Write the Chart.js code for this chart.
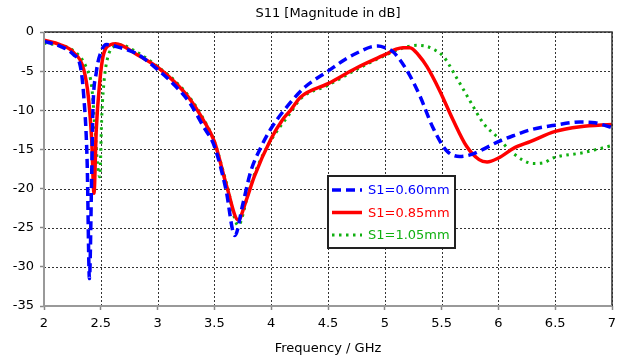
<!DOCTYPE html>
<html>
<head>
<meta charset="utf-8">
<script src="https://cdn.jsdelivr.net/npm/chart.js@4/dist/chart.umd.min.js"></script>
<style>
  html, body { margin: 0; padding: 0; background: #fff; }
  #wrap { width: 623px; height: 356px; }
</style>
</head>
<body>
<div id="wrap"><canvas id="c"></canvas></div>
<script>
// S1 = 0.60 mm
const freq060 = [2.00, 2.14, 2.26, 2.32, 2.35, 2.38, 2.40, 2.42, 2.43, 2.46, 2.50, 2.55, 2.67, 2.82, 3.00, 3.15, 3.28, 3.40, 3.50, 3.60, 3.68, 3.75, 3.82, 3.90, 4.00, 4.17, 4.30, 4.50, 4.65, 4.78, 4.88, 4.94, 5.00, 5.07, 5.19, 5.31, 5.42, 5.54, 5.66, 5.75, 5.85, 6.00, 6.14, 6.28, 6.50, 6.72, 6.85, 6.93, 7.00];
const db060   = [-1.2, -1.8, -2.9, -4.4, -8.2, -16.7, -31.5, -18.0, -10.3, -5.2, -2.6, -1.6, -2.0, -2.8, -4.8, -6.8, -9.0, -12.0, -14.6, -20.0, -26.0, -22.0, -17.8, -15.0, -12.3, -9.0, -7.0, -5.0, -3.5, -2.5, -1.9, -1.8, -2.0, -2.5, -4.8, -8.2, -12.1, -15.1, -15.9, -15.7, -15.1, -14.0, -13.2, -12.5, -11.9, -11.5, -11.6, -11.9, -12.2];

// S1 = 0.85 mm
const freq085 = [2.00, 2.14, 2.26, 2.35, 2.39, 2.42, 2.44, 2.46, 2.49, 2.52, 2.59, 2.63, 2.82, 3.00, 3.15, 3.28, 3.40, 3.50, 3.61, 3.71, 3.78, 3.85, 4.00, 4.10, 4.17, 4.26, 4.50, 4.75, 5.00, 5.10, 5.16, 5.22, 5.30, 5.37, 5.48, 5.60, 5.72, 5.83, 5.90, 6.00, 6.14, 6.28, 6.50, 6.72, 7.00];
const db085   = [-1.05, -1.6, -2.6, -4.8, -8.2, -13.8, -20.6, -12.5, -6.5, -3.1, -1.6, -1.5, -2.9, -4.5, -6.4, -8.5, -11.2, -14.0, -19.8, -24.0, -21.5, -18.5, -13.6, -11.2, -10.0, -8.3, -6.6, -4.6, -2.9, -2.2, -2.0, -2.0, -3.0, -4.4, -7.4, -11.2, -14.6, -16.3, -16.6, -16.1, -14.8, -14.0, -12.7, -12.1, -11.8];

// S1 = 1.05 mm
const freq105 = [2.00, 2.26, 2.38, 2.42, 2.45, 2.47, 2.49, 2.51, 2.53, 2.56, 2.62, 2.66, 2.82, 3.00, 3.15, 3.28, 3.40, 3.50, 3.61, 3.71, 3.80, 3.87, 4.00, 4.17, 4.26, 4.50, 4.75, 5.00, 5.15, 5.28, 5.36, 5.43, 5.52, 5.63, 5.75, 5.87, 5.99, 6.13, 6.31, 6.40, 6.48, 6.75, 7.00];
const db105   = [-1.4, -2.4, -4.8, -7.0, -12.5, -16.7, -18.5, -10.3, -6.1, -3.3, -1.8, -1.6, -2.6, -4.4, -6.2, -8.3, -11.0, -14.0, -19.5, -24.7, -20.5, -17.5, -13.8, -10.3, -8.5, -6.8, -4.8, -3.0, -2.1, -1.7, -1.8, -2.2, -3.2, -5.8, -8.8, -11.7, -13.4, -15.5, -16.8, -16.7, -16.1, -15.4, -14.5];

const seriesLabels = ['S1=0.60mm', 'S1=0.85mm', 'S1=1.05mm'];
const seriesColors = ['#0000ff', '#ff0000', '#10b010'];
const xTicks = [2, 2.5, 3, 3.5, 4, 4.5, 5, 5.5, 6, 6.5, 7];
const yTicks = [-35, -30, -25, -20, -15, -10, -5, 0];

const FONT = 'DejaVu Sans';

function toPoints(fs, vs) {
  return fs.map((f, i) => ({ x: f, y: vs[i] }));
}

// dotted grid made of small dots, drawn before the curves
const gridUnder = {
  id: 'gridUnder',
  beforeDatasetsDraw(chart) {
    const { ctx, chartArea: a } = chart;
    const xs = chart.scales.x, ys = chart.scales.y;
    const top = Math.round(a.top), bottom = Math.round(a.bottom);
    const left = Math.round(a.left), right = Math.round(a.right);
    ctx.save();
    ctx.fillStyle = '#333333';
    for (const v of xTicks) {
      const px = Math.round(xs.getPixelForValue(v));
      for (let y = top; y < bottom; y += 4) ctx.fillRect(px, y, 1, 2);
    }
    for (const v of yTicks) {
      const py = Math.round(ys.getPixelForValue(v));
      for (let x = left; x < right; x += 4) ctx.fillRect(x, py, 2, 1);
    }
    ctx.restore();
  }
};

// frame, title above plot and the legend box inside the plot
const decorations = {
  id: 'decorations',
  afterDraw(chart) {
    const { ctx, chartArea: a } = chart;
    ctx.save();
    // top and right frame (dark)
    ctx.strokeStyle = '#333';
    ctx.lineWidth = 1.5;
    ctx.beginPath();
    ctx.moveTo(a.left, a.top);
    ctx.lineTo(a.right, a.top);
    ctx.lineTo(a.right, a.bottom);
    ctx.stroke();
    // left and bottom axis lines (grey)
    ctx.strokeStyle = '#999';
    ctx.lineWidth = 2;
    ctx.beginPath();
    ctx.moveTo(a.left, a.top);
    ctx.lineTo(a.left, a.bottom);
    ctx.lineTo(a.right, a.bottom);
    ctx.stroke();

    // title
    ctx.fillStyle = '#000';
    ctx.font = '13px "' + FONT + '"';
    ctx.textAlign = 'center';
    ctx.textBaseline = 'middle';
    ctx.fillText('S11 [Magnitude in dB]', (a.left + a.right) / 2, 14);

    // legend
    const bx = 328, by = 176, bw = 127, bh = 72;
    ctx.fillStyle = '#fff';
    ctx.fillRect(bx, by, bw, bh);
    ctx.strokeStyle = '#222';
    ctx.lineWidth = 2;
    ctx.strokeRect(bx, by, bw, bh);
    ctx.textAlign = 'left';
    chart.data.datasets.forEach((ds, i) => {
      const yy = by + 14 + i * 22.5;
      ctx.strokeStyle = ds.borderColor;
      ctx.lineWidth = ds.borderWidth;
      ctx.setLineDash(ds.borderDash || []);
      ctx.beginPath();
      ctx.moveTo(bx + 4, yy);
      ctx.lineTo(bx + 34, yy);
      ctx.stroke();
      ctx.setLineDash([]);
      ctx.fillStyle = ds.borderColor;
      ctx.fillText(ds.label, bx + 40, yy + 1);
    });
    ctx.restore();
  }
};

new Chart(document.getElementById('c'), {
  type: 'line',
  data: {
    datasets: [
      {
        label: seriesLabels[0],
        data: toPoints(freq060, db060),
        borderColor: seriesColors[0],
        borderWidth: 3.5,
        borderDash: [9, 5],
      },
      {
        label: seriesLabels[1],
        data: toPoints(freq085, db085),
        borderColor: seriesColors[1],
        borderWidth: 3.5,
      },
      {
        label: seriesLabels[2],
        data: toPoints(freq105, db105),
        borderColor: seriesColors[2],
        borderWidth: 3,
        borderDash: [2.5, 4.5],
      }
    ]
  },
  options: {
    responsive: true,
    maintainAspectRatio: false,
    animation: false,
    elements: {
      point: { radius: 0 },
      line: { cubicInterpolationMode: 'monotone', fill: false }
    },
    layout: { padding: { left: 0, right: 11, top: 32, bottom: 0 } },
    plugins: {
      legend: { display: false },
      title: { display: false },
      tooltip: { enabled: false }
    },
    scales: {
      x: {
        type: 'linear',
        min: 2,
        max: 7,
        afterBuildTicks: (scale) => { scale.ticks = xTicks.map(v => ({ value: v })); },
        afterFit: (scale) => { scale.height = 50; },
        ticks: {
          color: '#000',
          font: { family: FONT, size: 13 },
          padding: 6,
          maxRotation: 0,
          callback: (v) => String(v)
        },
        grid: { drawOnChartArea: false, tickLength: 4, tickColor: '#888', tickWidth: 1.5 },
        border: { display: false },
        title: {
          display: true,
          text: 'Frequency / GHz',
          color: '#000',
          font: { family: FONT, size: 13 },
          padding: { top: 2, bottom: 0 }
        }
      },
      y: {
        type: 'linear',
        min: -35,
        max: 0,
        afterBuildTicks: (scale) => { scale.ticks = yTicks.map(v => ({ value: v })); },
        afterFit: (scale) => { scale.width = 44; },
        ticks: {
          color: '#000',
          font: { family: FONT, size: 13 },
          padding: 6
        },
        grid: { drawOnChartArea: false, tickLength: 4, tickColor: '#888', tickWidth: 1.5 },
        border: { display: false }
      }
    }
  },
  plugins: [gridUnder, decorations]
});
</script>
</body>
</html>
